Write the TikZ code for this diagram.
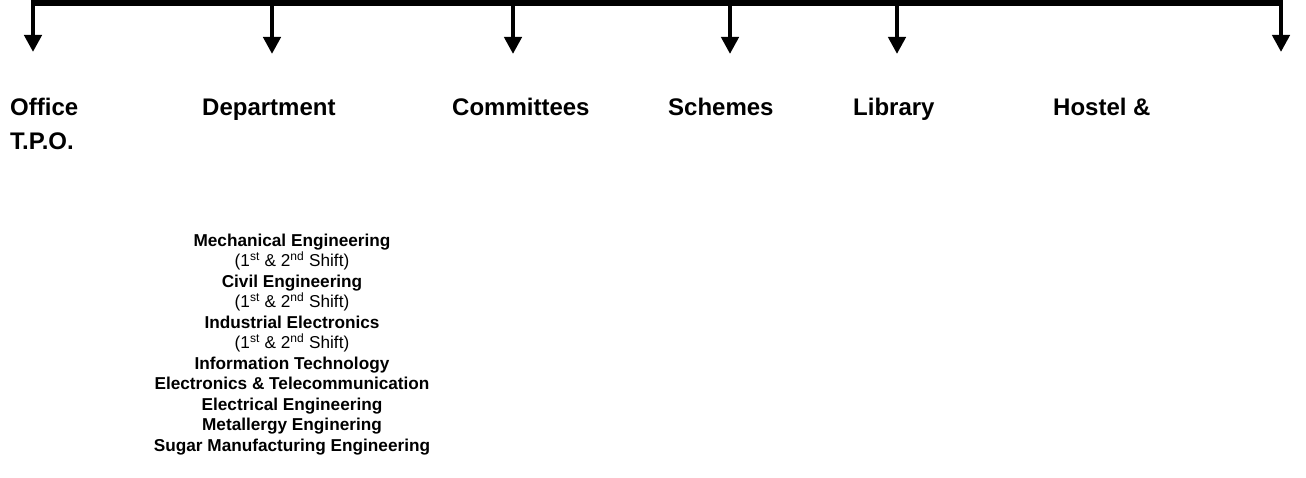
\documentclass[tikz,border=0pt]{standalone}
\usepackage{fontspec}
\setmainfont{Liberation Sans}
\usetikzlibrary{arrows.meta}

\begin{document}
\begin{tikzpicture}[x=1pt,y=-1pt,
		barline/.style={line width=6pt},
		drop/.style={line width=4.5pt, -{Triangle[width=17pt,length=17pt]}},
		head/.style={font=\bfseries\fontsize{24}{34}\selectfont, inner sep=0pt, anchor=base west, align=left},
		sub/.style={font=\fontsize{17.2}{20.5}\selectfont, inner sep=0pt, anchor=north, align=center}]

		\useasboundingbox (0,0) rectangle (1306,478);

		\def \bary {3};
		\def \tipy {52};
		\def \basey {115.5};

		% the long bar with its two end drops
		\coordinate (lc) at (33,\bary);
		\coordinate (rc) at (1281,\bary);
		\coordinate (lt) at (33,\tipy);
		\coordinate (rt) at (1281,\tipy);
		\draw [barline] ([xshift=-2.25pt]lc) -- ([xshift=2.25pt]rc);
		\draw [drop] ([yshift=-3pt]lc) -- (lt);
		\draw [drop] ([yshift=-3pt]rc) -- (rt);

		\foreach \x/\n in {272/dp, 513/cm, 730/sc, 897/lb} {
		    \coordinate (top\n) at (\x,\bary);
		    \coordinate (tip\n) at (\x,\tipy+2);
		    \draw [drop] (top\n) -- (tip\n);
		}

		\node (office) [head, anchor=north west] at (10,98) {Office\\T.P.O.};
		\node (dept) [head] at (202,\basey) {Department};
		\node (comm) [head] at (452,\basey) {Committees};
		\node (schemes) [head] at (668,\basey) {Schemes};
		\node (library) [head] at (853,\basey) {Library};
		\node (hostel) [head] at (1053,\basey) {Hostel \&};

		\node (deptlist) [sub] at (292,233.5) {\textbf{Mechanical Engineering}\\(1\textsuperscript{st} \& 2\textsuperscript{nd} Shift)\\
		    \textbf{Civil Engineering}\\(1\textsuperscript{st} \& 2\textsuperscript{nd} Shift)\\
		    \textbf{Industrial Electronics}\\(1\textsuperscript{st} \& 2\textsuperscript{nd} Shift)\\
		    \textbf{Information Technology}\\\textbf{Electronics \& Telecommunication}\\
		    \textbf{Electrical Engineering}\\\textbf{Metallergy Enginering}\\
		    \textbf{Sugar Manufacturing Engineering}};
	\end{tikzpicture}
\end{document}
